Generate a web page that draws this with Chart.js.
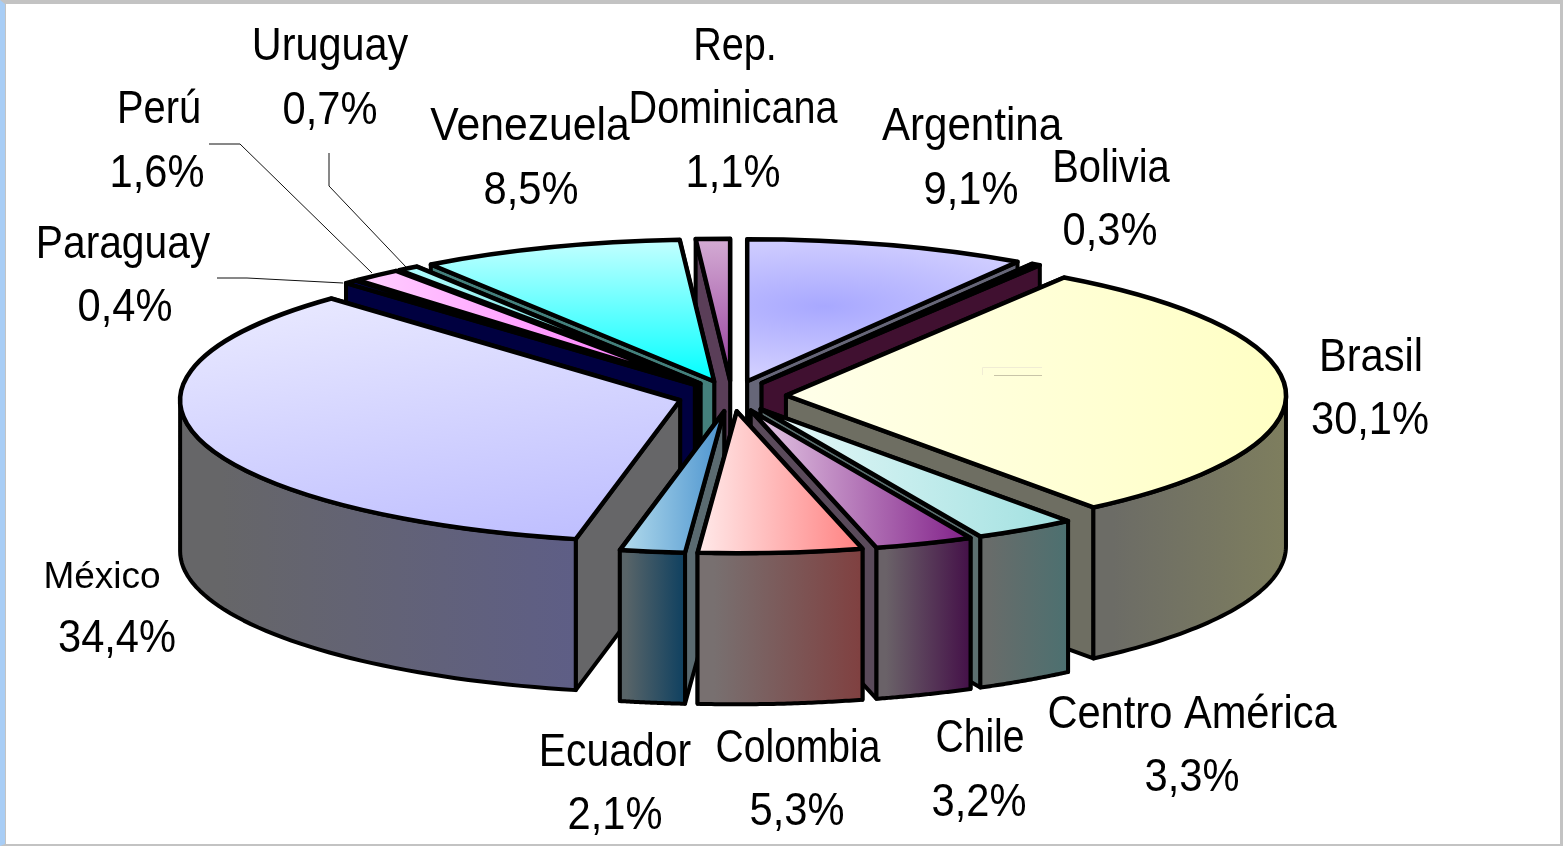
<!DOCTYPE html>
<html>
<head>
<meta charset="utf-8">
<title>Pie</title>
<script src="https://cdn.jsdelivr.net/npm/chart.js@4/dist/chart.umd.min.js"></script>
<style>
  html, body { margin: 0; padding: 0; background: #fff; overflow: hidden; }
  canvas { position: absolute; left: 0; top: 0; }
  #frame {
    position: fixed; left: 0; top: 0; right: 0; bottom: 0;
    border-top: 4px solid #c3c3c3; border-left: 5px solid #a8cdf5;
    border-right: 3px solid #c3c3c3; border-bottom: 2px solid #c3c3c3;
    box-shadow: inset 1px 0 0 #c3c3c3; pointer-events: none;
  }
</style>
</head>
<body>
<canvas id="pie3d" width="1563" height="846"></canvas>
<div id="frame"></div>
<script>
// Datos
const categories = ['Argentina', 'Bolivia', 'Brasil', 'Centro América', 'Chile', 'Colombia', 'Ecuador',
    'México', 'Paraguay', 'Perú', 'Uruguay', 'Venezuela', 'Rep. Dominicana'];
const shares = [9.1, 0.3, 30.1, 3.3, 3.2, 5.3, 2.1, 34.4, 0.4, 1.6, 0.7, 8.5, 1.1];

// Colores: cara superior [claro, fuerte], eje del degradado, pared exterior, cortes
const topLight = ['#d6d3ff', '#660033', '#ffffea', '#e8f9f9', '#e6cce6', '#ffeaea', '#b4dcec',
    '#ebebff', '#000080', '#ffd0ff', '#b0ffff', '#c4ffff', '#d4acd4'];
const topStrong = ['#a8a8ff', '#660033', '#ffffc4', '#a0e0e0', '#801f88', '#ff8080', '#4b93cf',
    '#bcbcff', '#000080', '#ff70ff', '#66cccc', '#00ffff', '#953d9b'];
const gradAxis = ['r', 'x', 'x', 'x', 'x', 'x', 'x', 'd', 'x', 'x', 'x', 'y', 'y'];
const wallLight = ['#666678', '#401030', '#6c6c66', '#686c6a', '#6a6268', '#787070', '#586468',
    '#666668', '#000040', '#664466', '#4a5a5a', '#44807c', '#5a4058'];
const wallDark = ['#666678', '#401030', '#7e7e5e', '#4c7070', '#441048', '#804040', '#0e4060',
    '#5e5e86', '#000040', '#664466', '#4a5a5a', '#44807c', '#5a4058'];
const faceColors = ['#666678', '#401030', '#6e6e62', '#5c7070', '#5a4a5a', '#665e60', '#5a6a70',
    '#666668', '#000040', '#553355', '#4a5a5a', '#44807c', '#5a3e58'];

// Geometria de la perspectiva (pixeles de pantalla)
const pieView = { cx: 732, cy: 396, rx: 500, ry: 142, depth: 151, explode: 54 };

// Posicion de los rotulos: lineas de nombre y luego el porcentaje, [x centro, linea base]
const labelPlaces = [
    [[972, 140], [971, 204]],
    [[1111, 182], [1110, 245]],
    [[1371, 371], [1370, 434]],
    [[1192, 728], [1192, 791]],
    [[980, 752], [979, 816]],
    [[798, 762], [797, 825]],
    [[615, 766], [615, 829]],
    [[102, 588], [117, 652]],
    [[123, 258], [125, 321]],
    [[159, 123], [157, 187]],
    [[330, 60], [330, 124]],
    [[530, 140], [531, 204]],
    [[735, 60], [733, 123], [733, 187]]
];
// ancho horizontal de cada nombre (el original esta comprimido)
const nameWidths = [0.915, 0.868, 0.905, 0.905, 0.85, 0.848, 0.89, 1, 0.885, 0.865, 0.9, 0.928, 0.86];
const leaderLines = [
    [[209, 144], [240, 144], [372, 273]],
    [[329, 153], [329, 186], [406, 267]],
    [[217, 278], [247, 278], [343, 283]]
];

function project(arc, angle, r, drop) {
    const mid = (arc.startAngle + arc.endAngle) / 2;
    const k = r / arc.outerRadius;
    return [
        pieView.cx + Math.cos(mid) * pieView.explode + Math.cos(angle) * k * pieView.rx,
        pieView.cy + Math.sin(mid) * pieView.explode * pieView.ry / pieView.rx
            + Math.sin(angle) * k * pieView.ry + drop
    ];
}

function tracePoly(ctx, pts) {
    ctx.beginPath();
    pts.forEach((p, i) => i ? ctx.lineTo(p[0], p[1]) : ctx.moveTo(p[0], p[1]));
    ctx.closePath();
}

function drawFace(ctx, arc, angle, color) {
    const a = project(arc, angle, 0, 0);
    const b = project(arc, angle, arc.outerRadius, 0);
    const d = pieView.depth;
    tracePoly(ctx, [a, b, [b[0], b[1] + d], [a[0], a[1] + d]]);
    ctx.fillStyle = color;
    ctx.fill();
    ctx.stroke();
}

function drawOuterWall(ctx, arc, i) {
    const from = Math.max(arc.startAngle, 0);
    const to = Math.min(arc.endAngle, Math.PI);
    if (to <= from) return;
    const top = [];
    const bottom = [];
    for (let n = 0; n <= 48; n++) {
        const a = from + (to - from) * n / 48;
        top.push(project(arc, a, arc.outerRadius, 0));
        bottom.unshift(project(arc, a, arc.outerRadius, pieView.depth));
    }
    const xs = top.map(p => p[0]);
    const grad = ctx.createLinearGradient(Math.min(...xs), 0, Math.max(...xs), 0);
    grad.addColorStop(0.1, wallLight[i]);
    grad.addColorStop(1, wallDark[i]);
    tracePoly(ctx, top.concat(bottom));
    ctx.fillStyle = grad;
    ctx.fill();
    ctx.stroke();
}

function topGradient(ctx, arc, i) {
    const axis = gradAxis[i];
    if (axis === 'r') {
        // mancha oscura en medio de la cuna
        const mid = (arc.startAngle + arc.endAngle) / 2;
        const gx = arc.x + Math.cos(mid) * arc.outerRadius * 0.55;
        const gy = arc.y + Math.sin(mid) * arc.outerRadius * 0.55;
        const radial = ctx.createRadialGradient(gx, gy, 0, gx, gy, arc.outerRadius * 0.55);
        radial.addColorStop(0, topStrong[i]);
        radial.addColorStop(1, topLight[i]);
        return radial;
    }
    // bounding box of the wedge in the arc's own coordinates
    const pts = [[arc.x, arc.y]];
    for (let n = 0; n <= 24; n++) {
        const a = arc.startAngle + (arc.endAngle - arc.startAngle) * n / 24;
        pts.push([arc.x + Math.cos(a) * arc.outerRadius, arc.y + Math.sin(a) * arc.outerRadius]);
    }
    const xs = pts.map(p => p[0]);
    const ys = pts.map(p => p[1]);
    const x0 = Math.min(...xs), x1 = Math.max(...xs), y0 = Math.min(...ys), y1 = Math.max(...ys);
    const grad = ctx.createLinearGradient(x0, y0, axis === 'y' ? x0 : x1, axis === 'x' ? y0 : y1);
    grad.addColorStop(0, topLight[i]);
    grad.addColorStop(1, topStrong[i]);
    return grad;
}

function drawSlice(ctx, arc, i) {
    ctx.lineWidth = 4;
    ctx.lineJoin = 'round';
    ctx.strokeStyle = '#000';
    // primero el corte de atras, luego el que mira al frente
    const cuts = [arc.startAngle, arc.endAngle].sort((a, b) => Math.sin(a) - Math.sin(b));
    cuts.forEach(angle => drawFace(ctx, arc, angle, faceColors[i]));
    drawOuterWall(ctx, arc, i);

    // cara superior: la dibuja el propio elemento arc dentro de la transformacion
    const apex = project(arc, 0, 0, 0);
    const sx = pieView.rx / arc.outerRadius;
    const sy = pieView.ry / arc.outerRadius;
    ctx.save();
    ctx.translate(apex[0], apex[1]);
    ctx.scale(sx, sy);
    ctx.translate(-arc.x, -arc.y);
    arc.options.backgroundColor = topGradient(ctx, arc, i);
    arc.draw(ctx);
    ctx.beginPath();
    ctx.moveTo(arc.x, arc.y);
    ctx.arc(arc.x, arc.y, arc.outerRadius, arc.startAngle, arc.endAngle);
    ctx.closePath();
    ctx.restore();
    ctx.lineWidth = 4.5;
    ctx.stroke();
}

const pie3dPlugin = {
    id: 'pie3d',
    beforeDatasetsDraw(chart) {
        const ctx = chart.ctx;
        const arcs = chart.getDatasetMeta(0).data;
        const depthY = arc => {
            const mid = (arc.startAngle + arc.endAngle) / 2;
            return project(arc, mid, arc.outerRadius * 0.6, 0)[1];
        };
        const order = arcs.map((arc, i) => i).sort((a, b) => depthY(arcs[a]) - depthY(arcs[b]));
        ctx.save();
        order.forEach(i => drawSlice(ctx, arcs[i], i));
        ctx.restore();
        return false;
    },
    afterDraw(chart) {
        const ctx = chart.ctx;
        ctx.save();

        // marca tenue sobre Brasil
        ctx.lineWidth = 1;
        ctx.strokeStyle = '#f0ecd4';
        ctx.beginPath();
        ctx.moveTo(982.5, 375);
        ctx.lineTo(982.5, 367.5);
        ctx.lineTo(1042, 367.5);
        ctx.stroke();
        ctx.strokeStyle = '#c8c4a8';
        ctx.beginPath();
        ctx.moveTo(994, 375.5);
        ctx.lineTo(1042, 375.5);
        ctx.stroke();

        // lineas guia
        ctx.strokeStyle = '#111';
        leaderLines.forEach(line => {
            ctx.beginPath();
            line.forEach((p, i) => i ? ctx.lineTo(p[0], p[1]) : ctx.moveTo(p[0], p[1]));
            ctx.stroke();
        });

        // rotulos
        ctx.fillStyle = '#000';
        ctx.textAlign = 'center';
        ctx.textBaseline = 'alphabetic';
        categories.forEach((name, i) => {
            const parts = name === 'Rep. Dominicana' ? ['Rep.', 'Dominicana'] : [name];
            const lines = parts.concat(shares[i].toFixed(1).replace('.', ',') + '%');
            lines.forEach((text, k) => {
                const place = labelPlaces[i][k];
                const small = name === 'México' && k === 0;
                const isName = k < parts.length;
                ctx.save();
                ctx.translate(place[0], place[1]);
                ctx.scale(isName ? nameWidths[i] : 0.905, 1);
                ctx.font = (small ? 37 : 46) + 'px "Liberation Sans", Arial, sans-serif';
                ctx.fillText(text, 0, 0);
                ctx.restore();
            });
        });
        ctx.restore();
    }
};

new Chart(document.getElementById('pie3d').getContext('2d'), {
    type: 'pie',
    data: {
        labels: categories,
        datasets: [{
            data: shares,
            backgroundColor: topStrong,
            borderWidth: 0
        }]
    },
    options: {
        responsive: false,
        animation: false,
        plugins: {
            legend: { display: false },
            title: { display: false },
            tooltip: { enabled: false }
        }
    },
    plugins: [pie3dPlugin]
});
</script>
</body>
</html>
